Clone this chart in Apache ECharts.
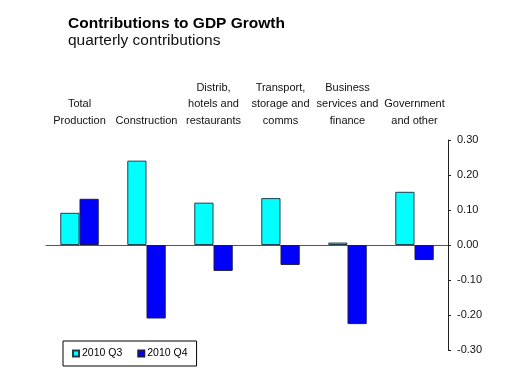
<!DOCTYPE html>
<html><head><meta charset="utf-8">
<script src="https://cdn.jsdelivr.net/npm/echarts@6/dist/echarts.min.js"></script>
<style>html,body{margin:0;padding:0;background:#fff}#c{width:509px;height:391px}</style>
</head><body><div id="c"></div>
<script>
var categories = ["Total\nProduction", "Construction", "Distrib,\nhotels and\nrestaurants", "Transport,\nstorage and\ncomms", "Business\nservices and\nfinance", "Government\nand other"];
var q3 = [0.092, 0.241, 0.121, 0.134, 0.007, 0.152];
var q4 = [0.132, -0.21, -0.074, -0.057, -0.226, -0.043];
var seriesNames = ["2010 Q3", "2010 Q4"];
var yTicks = {min: -0.3, max: 0.3, interval: 0.1};

var chart = echarts.init(document.getElementById('c'), null, {renderer: 'canvas'});
var font = 'Liberation Sans, Arial, sans-serif';
chart.setOption({
  animation: false,
  title: {
    text: 'Contributions to GDP Growth',
    subtext: 'quarterly contributions',
    left: 63, top: 11, itemGap: 1,
    textStyle: {fontFamily: font, fontSize: 15.5, fontWeight: 'bold', color: '#000'},
    subtextStyle: {fontFamily: font, fontSize: 15.5, color: '#111'}
  },
  legend: {
    data: seriesNames,
    left: 63, top: 341,
    itemWidth: 6, itemHeight: 6, itemGap: 15,
    padding: [7, 9, 7, 9],
    borderColor: '#000', borderWidth: 1,
    icon: 'rect',
    textStyle: {fontFamily: font, fontSize: 10.5, color: '#000', padding: [0, 0, 0, -2]}
  },
  grid: {left: 46, right: 61, top: 140, bottom: 41, containLabel: false},
  xAxis: [{
    type: 'category', data: categories, position: 'bottom',
    axisLine: {onZero: true, lineStyle: {color: '#555', width: 1}},
    axisTick: {show: false}, axisLabel: {show: false}
  }, {
    type: 'category', data: categories, position: 'top',
    axisLine: {show: false}, axisTick: {show: false},
    axisLabel: {fontFamily: font, fontSize: 11, color: '#111', lineHeight: 16.5, margin: 11, interval: 0}
  }],
  yAxis: {
    type: 'value', position: 'right', min: yTicks.min, max: yTicks.max, interval: yTicks.interval,
    axisLine: {show: true, lineStyle: {color: '#222'}},
    axisTick: {show: true, length: 3, lineStyle: {color: '#222'}},
    splitLine: {show: false},
    axisLabel: {fontFamily: font, fontSize: 11, color: '#111', margin: 9,
      formatter: function (v) { return v.toFixed(2); }}
  },
  series: [{
    name: seriesNames[0], type: 'bar', data: q3, barWidth: '28.7%', barGap: '0%',
    itemStyle: {color: '#00FFFF', borderColor: '#1f3f4f', borderWidth: 1}
  }, {
    name: seriesNames[1], type: 'bar', data: q4, barWidth: '28.7%', barGap: '0%',
    itemStyle: {color: '#0000FF', borderColor: '#1a1a4a', borderWidth: 1}
  }]
});
</script></body></html>
